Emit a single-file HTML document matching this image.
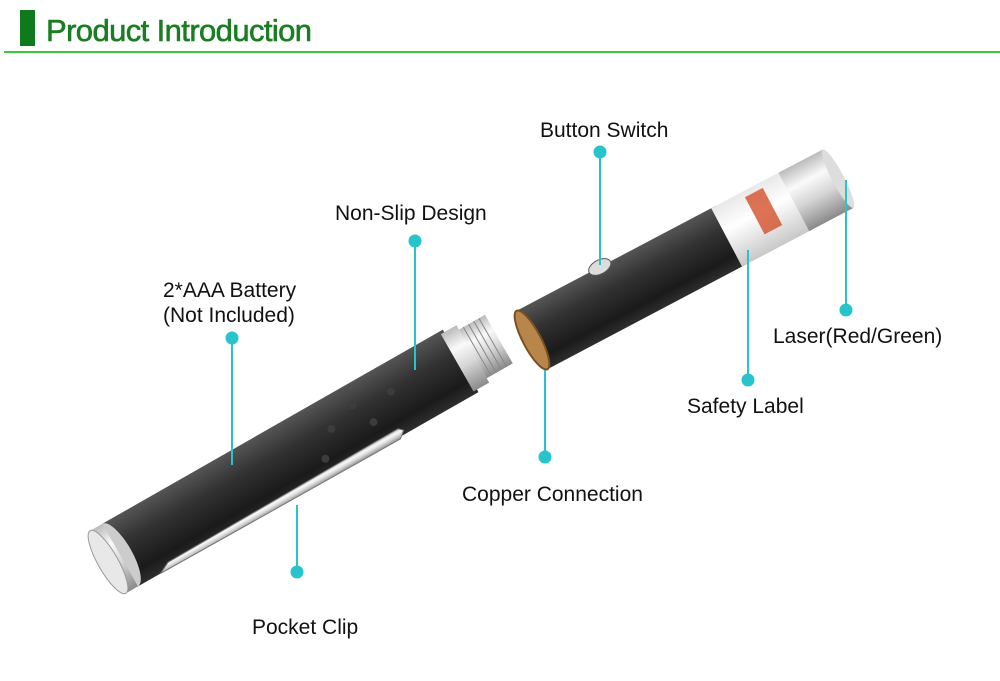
<!DOCTYPE html>
<html><head><meta charset="utf-8"><style>
html,body{margin:0;padding:0;background:#fff;width:1000px;height:681px;overflow:hidden}
svg{display:block}
text{font-family:"Liberation Sans",sans-serif}
</style></head><body>
<svg width="1000" height="681" viewBox="0 0 1000 681" xmlns="http://www.w3.org/2000/svg">
<defs>
<linearGradient id="blk2" x1="0" y1="0" x2="0" y2="1">
<stop offset="0" stop-color="#555"/><stop offset="0.35" stop-color="#333"/><stop offset="0.8" stop-color="#1a1a1a"/><stop offset="1" stop-color="#2e2e2e"/></linearGradient>
<linearGradient id="sil" x1="0" y1="0" x2="0" y2="1">
<stop offset="0" stop-color="#bbb"/><stop offset="0.3" stop-color="#fafafa"/><stop offset="0.6" stop-color="#d5d5d5"/><stop offset="1" stop-color="#8a8a8a"/></linearGradient>
<linearGradient id="lab" x1="0" y1="0" x2="0" y2="1">
<stop offset="0" stop-color="#e8e8e8"/><stop offset="0.4" stop-color="#fff"/><stop offset="1" stop-color="#c8c8c8"/></linearGradient>
</defs>
<!-- header -->
<rect x="20" y="10" width="15" height="36" fill="#0e7a1c"/>
<text x="46" y="41" font-size="31" fill="#1a7d22" stroke="#1a7d22" stroke-width="0.6" letter-spacing="-0.6">Product Introduction</text>
<rect x="4" y="51" width="996" height="2" fill="#33cc3a"/>

<!-- lower section -->
<g transform="translate(108,562) rotate(-29.7)">
<rect x="14" y="-36" width="392" height="72" fill="url(#blk2)"/>
<ellipse cx="14" cy="0" rx="12" ry="36" fill="#ccc"/>
<rect x="0" y="-36" width="14" height="72" fill="url(#sil)"/>
<ellipse cx="0" cy="0" rx="10" ry="36" fill="#e8e8e8" stroke="#999"/>
<rect x="402" y="-33" width="18" height="66" fill="url(#sil)"/>
<rect x="420" y="-28" width="30" height="56" fill="url(#sil)"/>
<g stroke="#888" stroke-width="1"><line x1="425" y1="-28" x2="425" y2="28"/><line x1="431" y1="-28" x2="431" y2="28"/><line x1="437" y1="-28" x2="437" y2="28"/><line x1="443" y1="-28" x2="443" y2="28"/></g>
<g fill="#3c3c3c"><circle cx="260" cy="-5" r="4"/><circle cx="290" cy="-15" r="4"/><circle cx="300" cy="10" r="4"/><circle cx="330" cy="-8" r="4"/><circle cx="240" cy="18" r="4"/></g>
<path d="M40 36 L315 38 L322 32 L318 28 L52 30 Z" fill="url(#sil)" stroke="#777" stroke-width="1"/>
</g>

<!-- upper section -->
<g transform="translate(532,340) rotate(-27.8)">
<rect x="0" y="-33" width="225" height="66" fill="url(#blk2)"/>
<ellipse cx="0" cy="0" rx="9" ry="33" fill="#b8864a" stroke="#7a5020" stroke-width="2"/>
<rect x="220" y="-33" width="78" height="66" fill="url(#lab)"/>
<rect x="255" y="-27" width="20" height="42" fill="#d4502a" opacity="0.8"/>
<rect x="296" y="-33" width="50" height="66" fill="url(#sil)"/>
<ellipse cx="346" cy="0" rx="6" ry="33" fill="#ddd"/>
<ellipse cx="94" cy="-33" rx="12" ry="7" fill="#ddd" stroke="#555"/>
</g>

<!-- callouts -->
<g stroke="#27c4cc" stroke-width="2" fill="#27c4cc">
<line x1="600" y1="152" x2="600" y2="265"/><circle cx="600" cy="152" r="5.5"/>
<line x1="415" y1="241" x2="415" y2="370"/><circle cx="415" cy="241" r="5.5"/>
<line x1="232" y1="338" x2="232" y2="465"/><circle cx="232" cy="338" r="5.5"/>
<line x1="297" y1="572" x2="297" y2="505"/><circle cx="297" cy="572" r="5.5"/>
<line x1="545" y1="457" x2="545" y2="370"/><circle cx="545" cy="457" r="5.5"/>
<line x1="748" y1="380" x2="748" y2="250"/><circle cx="748" cy="380" r="5.5"/>
<line x1="846" y1="310" x2="846" y2="180"/><circle cx="846" cy="310" r="5.5"/>
</g>
<g font-size="21" fill="#111">
<text x="540" y="137">Button Switch</text>
<text x="335" y="220">Non-Slip Design</text>
<text x="163" y="297">2*AAA Battery</text>
<text x="163" y="322">(Not Included)</text>
<text x="252" y="634">Pocket Clip</text>
<text x="462" y="501">Copper Connection</text>
<text x="687" y="413">Safety Label</text>
<text x="773" y="343">Laser(Red/Green)</text>
</g>
</svg>
</body></html>
